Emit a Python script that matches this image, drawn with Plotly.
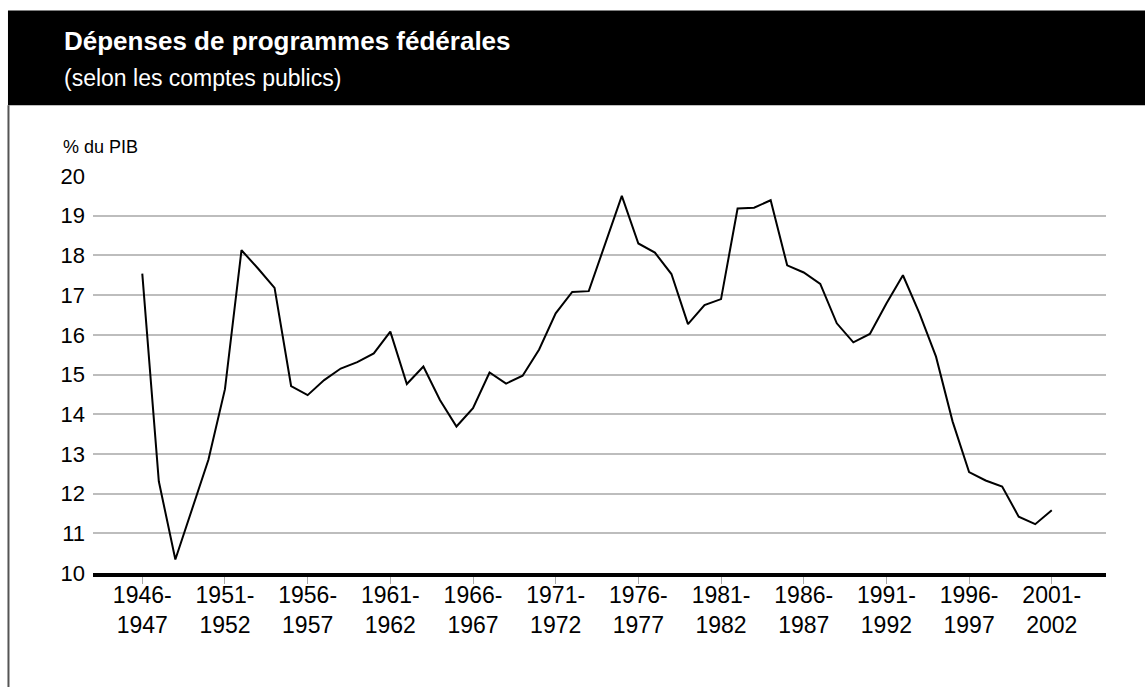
import plotly.graph_objects as go

years = list(range(1946, 2002))
depenses = [17.54, 12.31, 10.34, 11.59, 12.85, 14.63, 18.13, 17.67, 17.18, 14.71,
            14.48, 14.86, 15.15, 15.31, 15.53, 16.08, 14.76, 15.20, 14.36, 13.69,
            14.15, 15.05, 14.77, 14.97, 15.63, 16.54, 17.08, 17.10, 18.30, 19.50,
            18.30, 18.07, 17.53, 16.27, 16.75, 16.90, 19.18, 19.20, 19.39, 17.75,
            17.57, 17.28, 16.29, 15.81, 16.02, 16.79, 17.50, 16.54, 15.45, 13.82,
            12.54, 12.33, 12.18, 11.42, 11.23, 11.58]
tick_years = list(range(1946, 2002, 5))
tick_text = [f"{y}-<br>{y+1}" for y in tick_years]
y_ticks = list(range(10, 21))

W, H = 1145, 687
L, R = 93, 1105.7
T, B = 175.7, 573.1

def xp(px):
    return (px - L) / (R - L)

def yp(py):
    return (B - py) / (B - T)

fig = go.Figure()
fig.add_trace(go.Scatter(x=years, y=depenses, mode="lines",
                         line=dict(color="black", width=2), hoverinfo="skip"))

base_font = "Liberation Sans, Arial, Helvetica, sans-serif"

fig.update_layout(
    width=W, height=H,
    margin=dict(l=L, r=W - R, t=T, b=H - B, pad=0),
    paper_bgcolor="white", plot_bgcolor="white",
    showlegend=False,
    font=dict(family=base_font, color="black"),
    xaxis=dict(range=[1943.02, 2004.28], tickmode="array", tickvals=tick_years,
               ticktext=tick_text, showgrid=False, zeroline=False,
               showline=True, linecolor="black", linewidth=4,
               ticks="outside", ticklen=7, tickcolor="#aaaaaa", tickwidth=1,
               ticklabelstandoff=-9,
               tickfont=dict(size=23, color="black"), fixedrange=True),
    yaxis=dict(range=[10, 20], tickmode="array", tickvals=y_ticks,
               showgrid=True, gridcolor="#bdbdbd", gridwidth=1.5,
               zeroline=False, showline=False, ticks="",
               ticklabelstandoff=7,
               tickfont=dict(size=22, color="black"), fixedrange=True),
    shapes=[
        dict(type="rect", xref="paper", yref="paper",
             x0=xp(8), x1=xp(1146), y0=yp(105), y1=yp(10),
             fillcolor="black", line=dict(width=0), layer="above"),
        dict(type="line", xref="paper", yref="paper",
             x0=xp(8.5), x1=xp(8.5), y0=yp(105), y1=yp(690),
             line=dict(color="#555555", width=2)),
    ],
    annotations=[
        dict(text="Dépenses de programmes fédérales", xref="paper", yref="paper",
             x=xp(62), y=yp(41), xanchor="left", yanchor="middle", showarrow=False,
             font=dict(family=base_font, size=26, color="white", weight="bold")),
        dict(text="(selon les comptes publics)", xref="paper", yref="paper",
             x=xp(62), y=yp(77.5), xanchor="left", yanchor="middle", showarrow=False,
             font=dict(family=base_font, size=23, color="white")),
        dict(text="% du PIB", xref="paper", yref="paper",
             x=xp(61), y=yp(147), xanchor="left", yanchor="middle", showarrow=False,
             font=dict(family=base_font, size=18, color="black")),
    ],
)

fig.write_html("out.html")
